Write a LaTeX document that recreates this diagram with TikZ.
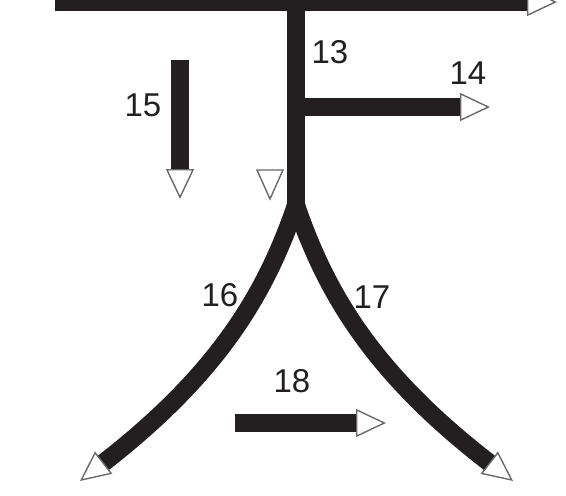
\documentclass[tikz,border=0pt]{standalone}
\usepackage{fontspec}
\setmainfont{Liberation Sans}
\usetikzlibrary{arrows.meta}
\definecolor{ink}{RGB}{35,31,32}
\definecolor{tipgray}{RGB}{105,105,105}
\tikzset{
  bar/.style={line width=18pt, draw=ink, line cap=butt},
  tipend/.style={-{Triangle[open, length=30pt, width=28pt, line width=1.4pt, color=tipgray]}},
  lbl/.style={inner sep=0pt, font=\fontsize{33}{36}\selectfont, text=ink},
  freetip/.style={draw=tipgray, line width=1.4pt, line join=miter}
}
\begin{document}
\begin{tikzpicture}[x=1pt, y=-1pt]
\useasboundingbox (0,0) rectangle (566,496);
\clip (0,0) rectangle (566,496);
% coordinates
\coordinate (topL) at (55,2);
\coordinate (topR) at (557,2);
\coordinate (stemTop) at (296,2);
\coordinate (fork) at (296,216);
\coordinate (forkc) at (296,205);
\coordinate (b14s) at (296,107);
\coordinate (b14e) at (490,107);
\coordinate (b15s) at (180,60);
\coordinate (b15e) at (180,199);
\coordinate (b16e) at (80,481);
\coordinate (b17e) at (513,481);
\coordinate (b18s) at (235,423);
\coordinate (b18e) at (386,423);
\coordinate (ft1) at (257,170);
\coordinate (ft2) at (283,170);
\coordinate (ft3) at (270,199);
% bars
\draw[bar, tipend] (topL) -- (topR);
\draw[bar] (stemTop) -- (fork);
\draw[bar, tipend] (b14s) -- (b14e);
\draw[bar, tipend] (b15s) -- (b15e);
\draw[bar, tipend] (forkc) .. controls (266,293) and (219,373) .. (b16e);
\draw[bar, tipend] (forkc) .. controls (326,293) and (373,373) .. (b17e);
\draw[bar, tipend] (b18s) -- (b18e);
% free arrowhead
\draw[freetip] (ft1) -- (ft2) -- (ft3) -- cycle;
% labels
\node[lbl] (l13) at (330,52) {13};
\node[lbl] (l14) at (468,73) {14};
\node[lbl] (l15) at (143,105) {15};
\node[lbl] (l16) at (220,295) {16};
\node[lbl] (l17) at (372,297) {17};
\node[lbl] (l18) at (292,381) {18};
\end{tikzpicture}
\end{document}
